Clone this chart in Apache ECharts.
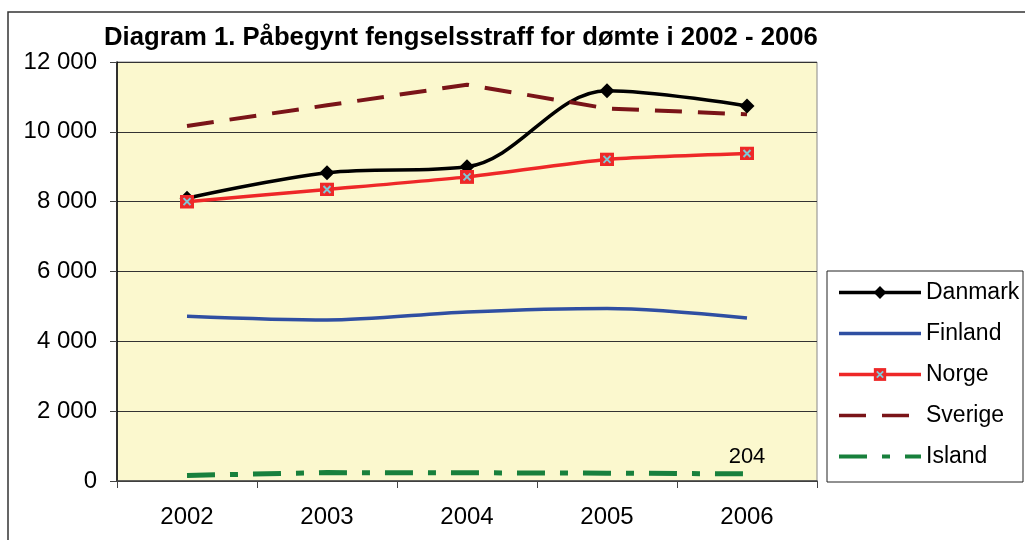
<!DOCTYPE html>
<html style="height: 100%">
<head>
    <meta charset="utf-8">
</head>
<body style="height: 100%; margin: 0; background: #fff">
    <div id="container" style="width: 1025px; height: 540px"></div>
    <script type="text/javascript" src="https://cdn.jsdelivr.net/npm/echarts@6/dist/echarts.min.js"></script>
    <script type="text/javascript">
        var years = ['2002', '2003', '2004', '2005', '2006'];
        var danmark = [8100, 8830, 9000, 11180, 10740];
        var finland = [4720, 4610, 4840, 4940, 4670];
        var norge = [8000, 8350, 8710, 9210, 9380];
        var sverige = [10170, 10760, 11350, 10670, 10500];
        var island = [160, 240, 235, 225, 204];

        var norgeIcon = 'image://data:image/svg+xml;utf8,' + encodeURIComponent(
            '<svg xmlns="http://www.w3.org/2000/svg" width="14" height="14">' +
            '<rect width="14" height="14" fill="#EE2828"/>' +
            '<path d="M3.5 3.5L10.5 10.5M10.5 3.5L3.5 10.5" stroke="#7EC8D8" stroke-width="2"/></svg>');

        var dom = document.getElementById("container");
        var myChart = echarts.init(dom);
        var font = 'Liberation Sans, Arial, sans-serif';

        var option = {
            animation: false,
            title: {
                text: 'Diagram 1. Påbegynt fengselsstraff for dømte i 2002 - 2006',
                left: 104,
                top: 25,
                padding: 0,
                textStyle: {
                    fontFamily: font,
                    fontSize: 25.7,
                    fontWeight: 'bold',
                    color: '#000'
                }
            },
            graphic: [{
                type: 'polyline',
                shape: { points: [[8, 545], [8, 12], [1030, 12]] },
                style: { stroke: '#333', lineWidth: 1.5, fill: null }
            }, {
                type: 'rect',
                shape: { x: 827, y: 271, width: 196, height: 211 },
                style: { stroke: '#222', lineWidth: 1, fill: '#fff' },
                z: -1
            }],
            legend: {
                orient: 'vertical',
                left: 837,
                top: 281,
                padding: 0,
                itemWidth: 82,
                itemHeight: 16,
                itemGap: 18,
                textStyle: { fontFamily: font, fontSize: 23, color: '#000' },
                data: [
                    { name: 'Danmark', lineStyle: { width: 3.5 } },
                    { name: 'Finland', itemStyle: { opacity: 0 }, lineStyle: { width: 3.5 } },
                    { name: 'Norge', lineStyle: { width: 3.5 } },
                    { name: 'Sverige', itemStyle: { opacity: 0 }, lineStyle: { width: 3.5, type: [27, 16] } },
                    { name: 'Island', itemStyle: { opacity: 0 }, lineStyle: { width: 4, type: [28, 15, 8, 15] } }
                ]
            },
            grid: {
                left: 117,
                top: 62,
                width: 700,
                height: 419,
                show: true,
                backgroundColor: '#FBF8CE',
                borderColor: '#888',
                borderWidth: 1
            },
            xAxis: {
                type: 'category',
                data: years,
                boundaryGap: true,
                axisLine: { lineStyle: { color: '#444', width: 1.5 } },
                axisTick: { show: true, length: 7, lineStyle: { color: '#444' } },
                axisLabel: { fontFamily: font, fontSize: 24, color: '#000', margin: 24 }
            },
            yAxis: {
                type: 'value',
                min: 0,
                max: 12000,
                interval: 2000,
                axisLine: { show: true, lineStyle: { color: '#000', width: 1.5 } },
                axisTick: { show: true, length: 7, lineStyle: { color: '#444' } },
                axisLabel: {
                    fontFamily: font,
                    fontSize: 24,
                    color: '#000',
                    margin: 20,
                    formatter: function (v) {
                        return String(v).replace(/\B(?=(\d{3})+(?!\d))/g, ' ');
                    }
                },
                splitLine: { lineStyle: { color: '#333', width: 1 } }
            },
            series: [{
                name: 'Danmark',
                type: 'line',
                data: danmark,
                smooth: 0.35,
                symbol: 'diamond',
                symbolSize: 15,
                itemStyle: { color: '#000' },
                lineStyle: { color: '#000', width: 3.5 }
            }, {
                name: 'Finland',
                type: 'line',
                data: finland,
                smooth: 0.3,
                symbol: 'none',
                itemStyle: { color: '#2F4FA2' },
                lineStyle: { color: '#2F4FA2', width: 3.5 }
            }, {
                name: 'Norge',
                type: 'line',
                data: norge,
                smooth: 0.2,
                symbol: norgeIcon,
                symbolSize: 14,
                itemStyle: { color: '#EE2828' },
                lineStyle: { color: '#EE2828', width: 3.5 }
            }, {
                name: 'Sverige',
                type: 'line',
                data: sverige,
                symbol: 'none',
                itemStyle: { color: '#7A1418' },
                lineStyle: { color: '#7A1418', width: 4, type: [27, 16] }
            }, {
                name: 'Island',
                type: 'line',
                data: island,
                symbol: 'circle',
                symbolSize: 0,
                itemStyle: { color: '#18803C' },
                lineStyle: { color: '#18803C', width: 5, type: [28, 15, 8, 15] },
                label: {
                    show: true,
                    position: 'top',
                    distance: 6,
                    fontFamily: font,
                    fontSize: 22,
                    color: '#000',
                    formatter: function (p) {
                        return p.dataIndex === years.length - 1 ? p.value : '';
                    }
                }
            }]
        };

        myChart.setOption(option, true);
    </script>
</body>
</html>
